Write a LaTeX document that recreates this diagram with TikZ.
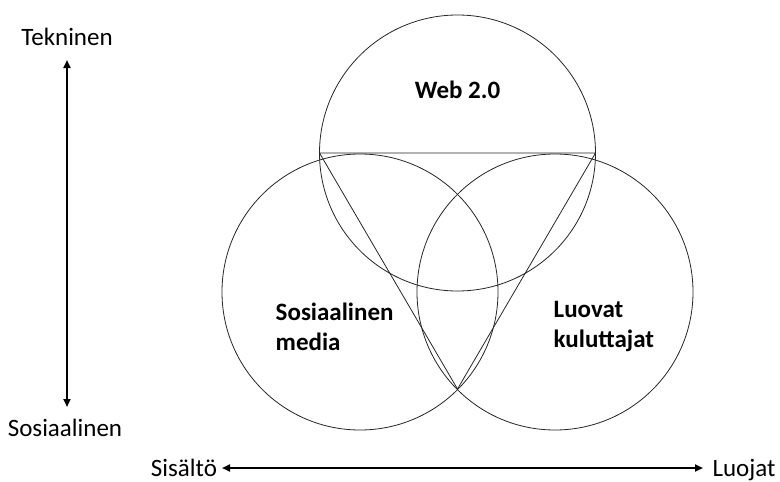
\documentclass[tikz,border=0pt]{standalone}
\usepackage{fontspec}
\setmainfont{Carlito}
\usetikzlibrary{arrows.meta}
\begin{document}
\begin{tikzpicture}[x=1pt,y=-1pt,>={Triangle[length=8pt,width=7pt]},line width=0.8pt,font=\fontsize{25}{30}\selectfont]
  \useasboundingbox (0,0) rectangle (780,482);

  % akselit
  \coordinate (ylä) at (67,60);
  \coordinate (ala) at (67,407);
  \coordinate (vasen) at (222,468);
  \coordinate (oikea) at (703,468);
  \draw[<->,line width=2pt] (ylä) -- (ala);
  \draw[<->,line width=2pt] (vasen) -- (oikea);

  \node (tekninen) at (67,37) {Tekninen};
  \node (sosiaalinen) at (65,428) {Sosiaalinen};
  \node[anchor=base,inner sep=1pt] (sisalto) at (184,476) {Sisältö};
  \node[anchor=base,inner sep=1pt] (luojat) at (744,476) {Luojat};

  % ympyrät
  \coordinate (W) at (457.5,153);
  \coordinate (S) at (360,292);
  \coordinate (L) at (555,292);
  \draw[black!85] (W) circle[radius=138];
  \draw[black!85] (S) circle[radius=138];
  \draw[black!85] (L) circle[radius=138];

  % kolmio
  \coordinate (A) at (319.5,153);
  \coordinate (B) at (595.5,153);
  \coordinate (C) at (457.5,389);
  \draw[black!85] (A) -- (B) -- (C) -- cycle;

  % tekstit
  \node[font=\fontsize{25}{30}\selectfont\bfseries] (web) at (457.5,90) {Web 2.0};
  \node[anchor=west,align=left,font=\fontsize{25}{30}\selectfont\bfseries] (some) at (272,327) {Sosiaalinen\\media};
  \node[anchor=west,align=left,font=\fontsize{25}{30}\selectfont\bfseries] (luovat) at (550,327) {Luovat\\kuluttajat};
\end{tikzpicture}
\end{document}
